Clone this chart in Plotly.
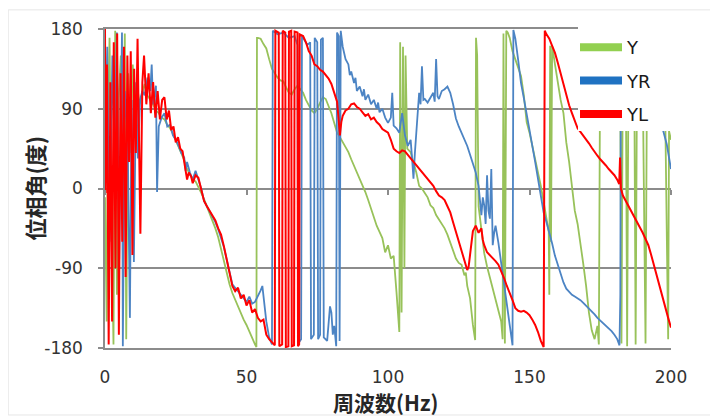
import plotly.graph_objects as go

# ---------------- data (frequency Hz, phase deg) ----------------
Y_pts = [
    (0, -10), (0.6, -150), (1.0, 60), (1.6, 170), (2.4, -60), (3.0, -176), (3.6, 178), (4.2, -120),
    (4.8, 100), (5.6, 150), (6.2, -40), (7.0, 175), (7.5, -170), (8.2, 130), (9.0, 40), (9.8, 140),
    (10.6, 90), (11.4, 115), (12.2, 95), (13, 105), (14, 118), (15, 105), (16, 100), (17, 95),
    (18, 88), (19, 85), (20, 80), (21, 78), (22, 72), (23, 68), (24, 62), (25, 55), (26, 48), (27, 40),
    (28, 32), (29, 22), (30, 15), (31, 10), (32, 8), (33, 2), (34, -5), (35, -12), (36, -20),
    (37, -28), (38, -35), (39, -45), (40, -55), (41, -68), (42, -82), (43, -96), (44, -108),
    (45, -118), (46, -126), (47, -132), (48, -140), (49, -148), (50, -154), (51, -162), (52, -170),
    (53, -176), (53.5, -179), (53.7, 170), (54, 170), (55, 169), (56, 163), (57, 158), (58, 146),
    (59, 135), (60, 130), (61, 125), (62, 122), (63, 121), (64, 114), (65, 108), (66, 106), (67, 112),
    (68, 116), (69, 112), (70, 108), (71, 100), (72, 93), (73, 88), (74, 85), (75, 90), (76, 97),
    (77, 103), (78, 101), (79, 94), (80, 85), (81, 74), (82, 63), (83, 58), (84, 52), (85, 46),
    (86, 41), (87, 33), (88, 26), (89, 18), (90, 11), (91, 4), (92, -4), (93, -13), (94, -23),
    (95, -32), (96, -42), (97, -49), (98, -56), (99, -72), (100, -64), (101, -79), (102, -76),
    (103, -117), (103.6, -150), (104, -162), (104.3, 165), (104.8, -140), (105.3, 160), (105.8, -90),
    (106.2, 150), (106.8, 45), (108, 41), (109, 30), (110, 18), (111, 3), (112, 0), (113, -5),
    (114, -10), (115, -19), (116, -22), (117, -30), (118, -35), (119, -40), (120, -45), (121, -52),
    (122, -61), (123, -70), (124, -79), (125, -84), (126, -86), (127, -98), (127.5, -95), (128, -110),
    (129, -124), (130, -154), (130.8, -171), (131.1, 170), (131.5, 150), (132, -20), (132.5, -35),
    (133, -50), (134, -73), (135, -88), (136, -100), (137, -111), (138, -125), (139, -137),
    (140, -150), (140.5, -170), (140.8, 175), (141.3, -175), (141.8, 178), (142.3, 176), (143, 170),
    (144, 155), (145, 146), (146, 135), (147, 127), (148, 105), (148.5, 90), (149, 75), (150, 63),
    (151, 48), (152, 34), (153, 20), (154, 3), (155, -15), (156, -34), (156.8, -49), (157, -120),
    (157.3, 161), (157.6, -60), (158, 161), (159, 140), (160, 118), (161, 100), (162, 85), (163, 52),
    (164, 30), (165, 0), (166, -25), (167, -40), (168, -60), (169, -85), (170, -110), (171, -140),
    (172, -160), (173, -170), (174, -155), (174.5, -176), (175, 170), (176, 178), (178, 172),
    (180, 168), (182, 160), (182.5, -175), (183, 158), (184, 155), (184.5, -178), (185, 150),
    (186, 148), (187, 140), (187.5, -176), (188, 135), (190, 125), (191, -175), (191.5, 118),
    (194, 100), (195, 95), (198, 75), (199, -170), (199.3, 65), (200, 55),
]

YR_pts = [
    (0, 20), (0.8, 160), (1.6, -60), (2.6, 150), (3.4, 40), (4.2, 176), (5.0, -80), (5.8, 140),
    (6.0, 176), (6.3, -178), (7.0, 110), (8.0, 60), (8.8, -146), (9.4, 100), (10.2, -83), (11.0, 120),
    (11.6, 34), (12.4, 100), (13.2, 110), (14, 105), (15, 125), (16, 110), (16.5, 140), (17, 95),
    (18, 116), (18.4, -4), (19, 70), (20, 80), (21, 85), (22, 70), (23, 72), (24, 60),
    (25, 55), (26, 48), (27, 40), (28, 35), (28.5, 20), (29, 30), (30, 18), (31, 10), (32, 20),
    (33, 10), (34, 0), (35, -14), (36, -20), (37, -26), (38, -32), (39, -38), (40, -46), (41, -55),
    (42, -66), (43, -80), (44, -96), (45, -108), (46, -112), (47, -116), (48, -120), (49, -123),
    (50, -128), (51, -122), (52, -130), (53, -128), (54, -122), (55, -115), (55.6, -110), (56, -120),
    (57, -150), (58, -168), (59, -176), (59.3, 178), (61, 174), (63, 176), (65, 170), (67, 172),
    (68, 162), (68.3, -175), (69.3, -170), (69.6, 172), (71.5, 162), (72.5, 165), (72.8, -170),
    (73.8, -165), (74.1, 170), (75.0, 165), (75.3, -170), (76.0, -165), (76.3, 168), (77.0, 170),
    (77.3, -168), (78.5, -172), (79, -150), (79.5, -133), (80, -140), (80.5, -165), (81, -155),
    (81.7, -178), (82, 176), (82.6, 172), (82.9, -172), (83.3, 178), (84, 160), (85, 146), (86, 140),
    (86.5, 128), (87, 132), (88, 119), (88.5, 125), (89, 110), (90, 115), (91, 104), (91.5, 112),
    (92, 100), (93, 106), (94, 95), (95, 100), (96, 90), (96.5, 97), (97, 86), (98, 90), (99, 80),
    (100, 74), (101, 80), (101.5, 108), (102, 71), (103, 68), (104, 63), (105, 85), (105.5, 70),
    (106, 60), (107, 48), (108, 55), (108.5, 34), (109, 11), (109.5, 40), (110, 60), (111, 108),
    (111.5, 95), (112, 138), (112.5, 100), (113, 101), (114, 97), (115, 103), (116, 108),
    (116.5, 98), (117, 146), (117.5, 104), (118, 101), (119, 110), (120, 112), (121, 115), (122, 108),
    (123, 95), (124, 79), (125, 70), (126, 63), (127, 56), (128, 48), (129, 38), (130, 29), (131, 18),
    (132, 3), (133, -30), (133.5, -10), (134, -19), (134.5, -40), (135, 15), (135.5, -25), (136, -34),
    (136.5, 22), (137, -64), (137.5, -50), (138, -42), (139, -61), (140, -85), (141, -109),
    (142, -130), (143, -154), (144, -177), (144.3, 179), (145, 169), (146, 145), (147, 119),
    (148, 102), (149, 85), (150, 66), (151, 48), (152, 30), (153, 11), (154, -8), (155, -27),
    (156, -38), (157, -49), (158, -62), (159, -76), (160, -87), (161, -98), (162, -106), (163, -113),
    (164, -117), (165, -120), (166, -122), (167, -124), (168, -126), (169, -129), (170, -132),
    (171, -135), (172, -139), (173, -142), (174, -146), (175, -149), (176, -152), (177, -154),
    (178, -158), (179, -161), (180, -165), (181, -170), (181.8, -177), (182.1, -120), (182.3, 178),
    (183, 176), (185, 165), (188, 145), (191, 120), (194, 100), (196, 80), (197.5, 63), (198.5, 50),
    (199.3, 35), (200, 22),
]

YL_pts = [
    (0, 180), (0.2, -5), (0.7, 140), (1.3, -176), (1.9, 120), (2.5, -150), (3.1, 165), (3.7, -90),
    (4.3, 175), (4.9, -165), (5.5, 130), (6.1, -60), (6.7, 160), (7.3, -100), (7.9, 150), (8.5, 30),
    (9.1, 155), (9.7, -75), (10.3, 135), (10.9, 40), (11.5, 169), (12.5, -51), (13.2, 120),
    (13.8, 150), (14.6, 95), (15.4, 130), (16.2, 85), (17.0, 120), (17.8, 80), (18.6, 110),
    (19.4, 78), (20.2, 100), (21, 103), (21.8, 78), (22.6, 88), (23.4, 66), (24.2, 70), (25, 52),
    (25.8, 58), (26.6, 45), (27.4, 42), (28.2, 28), (29, 10), (29.6, 18), (30.4, 14), (31, 6),
    (32, 15), (33, 12), (33.6, 4), (34.3, -2), (35, -14), (36, -20), (37, -25), (38, -30), (39, -36),
    (40, -45), (41, -52), (42, -65), (43, -80), (44, -98), (45, -110), (46, -116), (47, -112),
    (48, -124), (49, -120), (50, -132), (51, -126), (52, -140), (53, -136), (54, -146), (55, -150),
    (56, -148), (57, -165), (58, -170), (59, -174), (60, -177), (60.2, 178), (61.4, 176),
    (61.6, -178), (62.6, -176), (62.8, 178), (63.7, 176), (63.9, -179), (64.8, -178), (65.0, 177),
    (65.8, 178), (66.0, -178), (66.8, -177), (67.0, 177), (68.0, 176), (68.2, -178), (68.6, -176),
    (68.8, 174), (70, 172), (71, 165),
    (72, 155), (73, 150), (74, 140), (75, 138), (76, 134), (77, 132), (78, 128), (79, 124), (80, 118),
    (81, 108), (82, 98), (82.5, 80), (83, 60), (83.5, 75), (84, 82), (85, 88), (86, 90), (87, 95),
    (88, 96), (89, 92), (90, 90), (91, 86), (92, 82), (93, 84), (94, 78), (95, 80), (96, 75), (97, 72),
    (98, 67), (99, 65), (100, 63), (101, 55), (102, 45), (103, 42), (104, 40), (105, 43), (106, 42),
    (107, 38), (108, 34), (109, 30), (110, 26), (111, 22), (112, 18), (113, 15), (114, 10), (115, 7),
    (116, 3), (117, -3), (118, -8), (119, -10), (120, -13), (121, -20), (122, -27), (123, -38),
    (124, -49), (125, -60), (126, -72), (127, -82), (128, -92), (128.5, -88), (129, -75),
    (129.5, -55), (130, -48), (130.5, -45), (131, -42), (132, -50), (133, -45), (133.5, -58),
    (134, -64), (135, -72), (136, -75), (137, -79), (138, -82), (139, -86), (140, -93), (141, -101),
    (142, -110), (143, -117), (144, -126), (145, -135), (146, -138), (147, -139), (148, -138),
    (149, -140), (150, -143), (151, -148), (152, -154), (153, -162), (154, -172), (155, -179),
    (155.4, 178), (156, 174), (157, 169), (158, 161), (159, 153), (160, 142), (161, 130), (162, 117),
    (163, 105), (164, 94), (165, 85), (166, 76), (167, 68), (168, 64), (169, 60), (170, 55),
    (171, 51), (172, 46), (173, 41), (174, 37), (175, 33), (176, 30), (177, 26), (178, 22), (179, 19),
    (180, 15), (181, 10), (181.7, 5), (182, 35), (182.3, 0), (183, -8), (184, -14), (185, -19),
    (186, -25), (187, -31), (188, -38), (189, -44), (190, -50), (191, -57), (192, -64), (193, -75),
    (194, -87), (195, -100), (196, -113), (197, -124), (198, -135), (199, -146), (200, -157),
]

series_names = ["Y", "YR", "YL"]
x_ticks = [0, 50, 100, 150, 200]
y_ticks = [-180, -90, 0, 90, 180]
y_tick_text = ["-180", "-90", "0", "90", "180"]
x_title = "周波数(Hz)"
y_title = "位相角(度)"

line_colors = ["#98C25A", "#4C84C4", "#FF0000"]
legend_colors = ["#92D050", "#1F72C2", "#FF0000"]
line_widths = [1.8, 1.8, 2.0]

GRID = "#8C8C8C"
TITLE_FONT = dict(family="Noto Sans CJK JP", size=22, color="#262626", weight="bold")
XTITLE_FONT = dict(family="Noto Sans CJK JP", size=21, color="#262626", weight="bold")

fig = go.Figure()
for name, pts, col, w in zip(series_names, [Y_pts, YR_pts, YL_pts], line_colors, line_widths):
    xs = [p[0] for p in pts]
    ys = [p[1] for p in pts]
    fig.add_trace(go.Scatter(x=xs, y=ys, mode="lines", name=name, showlegend=False,
                             line=dict(color=col, width=w), legendgroup=name))

# legend entries with thick swatches (on the overlay axis that carries the ticks on the 0 line)
for name, col in zip(series_names, legend_colors):
    fig.add_trace(go.Scatter(x=[None], y=[None], mode="lines", name=name, legendgroup=name,
                             xaxis="x2", line=dict(color=col, width=8), showlegend=True))

# The page body has an 8 px default margin, so the figure is sized/offset to compensate.
fig.update_layout(
    width=710, height=411,
    margin=dict(l=97, r=47, t=21, b=71, autoexpand=False),
    paper_bgcolor="white", plot_bgcolor="white",
    showlegend=True,
    legend=dict(x=0.8304, y=1.0, xanchor="left", yanchor="top", bgcolor="rgba(0,0,0,0)",
                font=dict(family="DejaVu Sans", size=18, color="#1a1a1a"), itemwidth=42,
                tracegroupgap=7, itemclick=False, itemdoubleclick=False),
    xaxis=dict(range=[0, 200], tickvals=x_ticks, showgrid=False, zeroline=False, automargin=False,
               showline=True, mirror=True, linecolor=GRID, linewidth=1.5, ticks="",
               ticklabelstandoff=13,
               tickfont=dict(family="DejaVu Sans", size=17, color="#333333")),
    xaxis2=dict(range=[0, 200], overlaying="x", anchor="free", position=0.5, tickvals=x_ticks,
                showgrid=False, zeroline=False, showline=False, ticks="outside", ticklen=5,
                tickwidth=1.5, tickcolor=GRID, showticklabels=False, automargin=False),
    yaxis=dict(range=[-180, 180], tickvals=y_ticks, ticktext=y_tick_text, showgrid=True,
               gridcolor=GRID, gridwidth=1.5,
               zeroline=True, zerolinecolor=GRID, zerolinewidth=1.5, automargin=False,
               showline=True, linecolor=GRID, linewidth=1.5,
               ticks="outside", ticklen=5, tickwidth=1.5, tickcolor=GRID, ticklabelstandoff=12,
               tickfont=dict(family="DejaVu Sans", size=17, color="#333333")),
    annotations=[
        dict(text=y_title, xref="paper", yref="paper", x=-0.127, y=0.5, xanchor="center",
             yanchor="middle", textangle=-90, showarrow=False, font=TITLE_FONT),
        dict(text=x_title, xref="paper", yref="paper", x=0.497, y=-0.169, xanchor="center",
             yanchor="middle", showarrow=False, font=XTITLE_FONT),
    ],
    shapes=[
        # white legend panel over the plot
        dict(type="rect", xref="paper", yref="paper", x0=0.8357, x1=1.007, y0=0.68, y1=1.01,
             fillcolor="white", line=dict(width=0), layer="above"),
        # light chart frame
        dict(type="rect", xref="paper", yref="paper", x0=-0.171, x1=1.074, y0=-0.21, y1=1.06,
             fillcolor="rgba(0,0,0,0)", line=dict(color="#E6E6E6", width=1), layer="below"),
    ],
)

fig.write_html("out.html")
